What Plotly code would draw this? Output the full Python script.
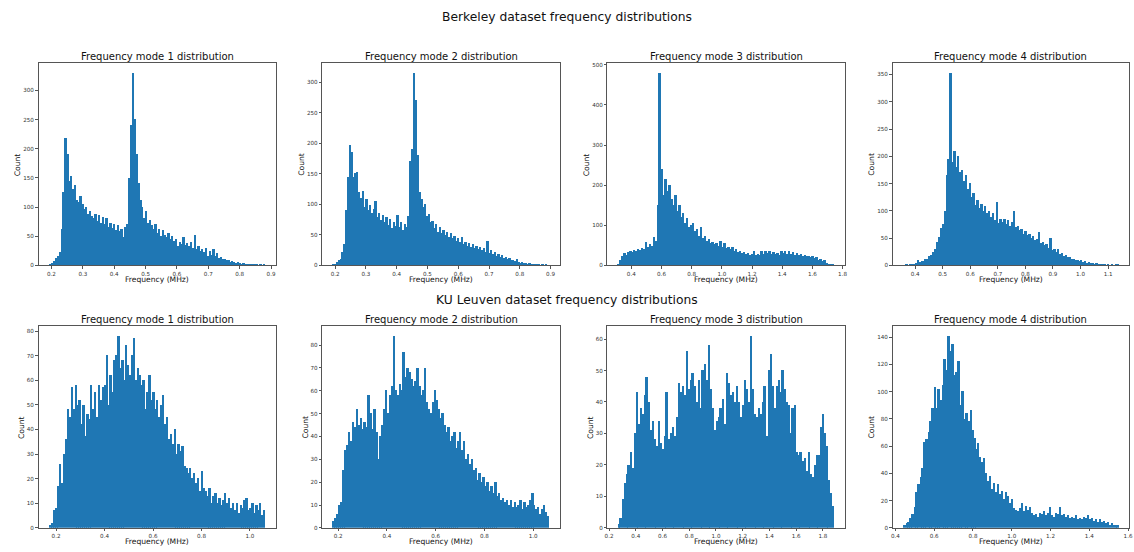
import numpy as np
import plotly.graph_objects as go

# ---------------- data (bin counts) ----------------
suptitles = ["Berkeley dataset frequency distributions", "KU Leuven dataset frequency distributions"]
panel_titles = ["Frequency mode 1 distribution", "Frequency mode 2 distribution",
                "Frequency mode 3 distribution", "Frequency mode 4 distribution"]
x_label = "Frequency (MHz)"
y_label = "Count"

# Berkeley
b1_lo, b1_hi = 0.193, 0.880
b1_counts = [1, 3, 7, 12, 16, 22, 62, 125, 218, 190, 145, 152, 130, 138, 112, 108, 118, 104, 96, 100,
             88, 92, 84, 80, 88, 75, 86, 72, 82, 70, 80, 66, 72, 64, 70, 60, 68, 58, 62, 48,
             65, 70, 150, 240, 330, 250, 190, 140, 112, 100, 80, 92, 72, 78, 68, 62, 70, 55, 62, 50,
             60, 52, 48, 55, 45, 50, 42, 45, 32, 40, 36, 48, 35, 38, 32, 40, 30, 52, 28, 32,
             24, 28, 22, 30, 16, 24, 18, 27, 15, 20, 12, 14, 10, 11, 8, 9, 6, 7, 5, 4,
             5, 3, 2, 4, 2, 2, 1, 2, 1, 1, 1, 0, 1, 0, 1]
b1_xticks = [0.2, 0.3, 0.4, 0.5, 0.6, 0.7, 0.8, 0.9]
b1_yticks = [0, 50, 100, 150, 200, 250, 300]

b2_lo, b2_hi = 0.193, 0.896
b2_counts = [1, 2, 5, 8, 10, 22, 35, 90, 145, 197, 185, 145, 150, 152, 120, 110, 122, 95, 108, 90,
             98, 85, 92, 105, 78, 86, 74, 82, 70, 78, 66, 76, 60, 70, 64, 82, 62, 70, 58, 68,
             62, 80, 170, 190, 315, 270, 180, 120, 108, 95, 100, 80, 84, 70, 72, 60, 68, 55, 62, 52,
             58, 50, 55, 46, 52, 45, 48, 40, 44, 38, 46, 35, 38, 32, 36, 30, 34, 28, 32, 26,
             30, 24, 28, 22, 40, 20, 24, 18, 22, 15, 18, 13, 16, 12, 14, 10, 12, 8, 9, 7,
             10, 5, 4, 5, 3, 4, 2, 3, 2, 1, 2, 1, 1, 0, 1, 0, 1, 0]
b2_xticks = [0.2, 0.3, 0.4, 0.5, 0.6, 0.7, 0.8, 0.9]
b2_yticks = [0, 50, 100, 150, 200, 250, 300]

b3_lo, b3_hi = 0.3135, 1.7435
b3_counts = [3, 12, 22, 30, 26, 33, 35, 32, 38, 35, 40, 38, 42, 40, 58, 45, 52, 48, 70, 60,
             150, 480, 240, 175, 215, 185, 200, 165, 150, 175, 135, 150, 120, 130, 105, 118, 95, 100, 105, 85,
             90, 72, 95, 68, 72, 60, 65, 55, 58, 52, 55, 48, 60, 45, 55, 42, 46, 40, 44, 36,
             40, 33, 35, 30, 32, 27, 30, 26, 28, 36, 25, 28, 26, 34, 28, 36, 30, 35, 27, 32,
             28, 30, 26, 36, 30, 35, 28, 34, 27, 32, 26, 30, 25, 28, 23, 26, 22, 24, 20, 22,
             17, 20, 14, 16, 10, 12, 6, 4, 2, 1]
b3_xticks = [0.4, 0.6, 0.8, 1.0, 1.2, 1.4, 1.6, 1.8]
b3_yticks = [0, 100, 200, 300, 400, 500]

b4_lo, b4_hi = 0.357, 1.138
b4_counts = [0, 1, 0, 1, 1, 2, 3, 10, 6, 8, 7, 11, 12, 16, 18, 24, 30, 42, 52, 68,
             75, 100, 165, 195, 353, 190, 210, 180, 200, 170, 175, 155, 165, 140, 150, 125, 132, 110, 120, 105,
             112, 100, 108, 95, 100, 88, 95, 82, 115, 78, 85, 80, 84, 76, 82, 72, 80, 100, 70, 72,
             64, 66, 58, 62, 55, 58, 50, 54, 46, 48, 60, 40, 42, 36, 38, 32, 50, 28, 30, 24,
             30, 20, 22, 17, 19, 14, 15, 11, 12, 9, 10, 7, 9, 5, 8, 4, 5, 3, 4, 2,
             3, 2, 1, 2, 1, 0, 1, 0, 1, 0, 1, 1]
b4_xticks = [0.4, 0.5, 0.6, 0.7, 0.8, 0.9, 1.0, 1.1]
b4_yticks = [0, 50, 100, 150, 200, 250, 300, 350]

# KU Leuven
k1_lo, k1_hi = 0.172, 1.061
k1_counts = [1, 2, 7, 8, 17, 26, 18, 30, 36, 48, 45, 57, 48, 58, 50, 52, 42, 50, 37, 46,
             44, 58, 48, 55, 45, 58, 52, 57, 58, 70, 50, 62, 55, 68, 70, 78, 65, 68, 60, 74,
             66, 62, 70, 77, 60, 65, 62, 58, 60, 48, 55, 62, 52, 55, 48, 52, 45, 50, 54, 42,
             45, 36, 38, 34, 40, 30, 34, 31, 33, 25, 24, 22, 24, 20, 22, 18, 20, 15, 23, 16,
             15, 13, 16, 10, 13, 14, 10, 12, 9, 11, 14, 10, 12, 8, 10, 7, 10, 6, 9, 8,
             11, 12, 7, 8, 10, 6, 9, 7, 10, 5, 7]
k1_xticks = [0.2, 0.4, 0.6, 0.8, 1.0]
k1_yticks = [0, 10, 20, 30, 40, 50, 60, 70, 80]

k2_lo, k2_hi = 0.179, 1.066
k2_counts = [3, 4, 6, 10, 11, 25, 34, 36, 42, 38, 46, 44, 52, 45, 48, 43, 46, 44, 58, 50,
             43, 52, 42, 30, 40, 45, 52, 60, 50, 58, 62, 84, 60, 58, 63, 60, 77, 66, 70, 68,
             65, 62, 64, 70, 62, 58, 60, 70, 55, 52, 50, 55, 60, 56, 52, 48, 50, 45, 42, 44,
             38, 40, 42, 35, 38, 42, 34, 38, 30, 32, 28, 30, 25, 26, 21, 24, 20, 22, 18, 20,
             16, 18, 15, 20, 14, 15, 12, 13, 11, 12, 10, 12, 9, 11, 9, 10, 12, 8, 11, 9,
             10, 12, 15, 10, 8, 9, 6, 8, 10, 7, 5]
k2_xticks = [0.2, 0.4, 0.6, 0.8, 1.0]
k2_yticks = [0, 10, 20, 30, 40, 50, 60, 70, 80]

k3_lo, k3_hi = 0.269, 1.883
k3_counts = [1, 3, 9, 14, 17, 20, 24, 19, 30, 43, 33, 38, 36, 42, 48, 40, 31, 34, 28, 26,
             34, 27, 25, 29, 43, 28, 30, 32, 29, 35, 46, 43, 45, 42, 56, 44, 47, 49, 45, 40,
             47, 38, 50, 52, 47, 58, 44, 38, 31, 34, 35, 38, 41, 33, 49, 46, 42, 43, 40, 45,
             40, 35, 39, 47, 44, 40, 61, 44, 36, 35, 38, 36, 40, 45, 29, 50, 55, 45, 38, 45,
             47, 43, 50, 44, 40, 39, 30, 38, 39, 24, 23, 24, 21, 22, 18, 24, 17, 16, 20, 23,
             23, 32, 36, 30, 26, 15, 11, 7]
k3_xticks = [0.2, 0.4, 0.6, 0.8, 1.0, 1.2, 1.4, 1.6, 1.8]
k3_yticks = [0, 10, 20, 30, 40, 50, 60]

k4_lo, k4_hi = 0.4405, 1.551
k4_counts = [2, 3, 4, 7, 10, 15, 26, 32, 37, 44, 63, 65, 70, 78, 88, 103, 88, 102, 94, 105,
             124, 116, 141, 130, 135, 112, 114, 122, 90, 100, 80, 84, 78, 86, 72, 66, 58, 62, 52, 48,
             51, 40, 34, 38, 28, 33, 26, 32, 25, 27, 21, 26, 23, 18, 21, 14, 13, 12, 14, 18,
             12, 16, 13, 15, 11, 9, 10, 8, 11, 10, 12, 9, 11, 15, 9, 8, 11, 10, 15, 9,
             10, 8, 9, 7, 8, 7, 9, 6, 7, 6, 8, 7, 9, 6, 7, 5, 6, 4, 6, 4,
             5, 3, 4, 2, 3, 2, 2, 2]
k4_xticks = [0.4, 0.6, 0.8, 1.0, 1.2, 1.4, 1.6]
k4_yticks = [0, 20, 40, 60, 80, 100, 120, 140]

panels = [
    (b1_lo, b1_hi, b1_counts, b1_xticks, b1_yticks),
    (b2_lo, b2_hi, b2_counts, b2_xticks, b2_yticks),
    (b3_lo, b3_hi, b3_counts, b3_xticks, b3_yticks),
    (b4_lo, b4_hi, b4_counts, b4_xticks, b4_yticks),
    (k1_lo, k1_hi, k1_counts, k1_xticks, k1_yticks),
    (k2_lo, k2_hi, k2_counts, k2_xticks, k2_yticks),
    (k3_lo, k3_hi, k3_counts, k3_xticks, k3_yticks),
    (k4_lo, k4_hi, k4_counts, k4_xticks, k4_yticks),
]

# ---------------- layout geometry (pixels) ----------------
W, H = 1134, 552
col_px = [(35.7, 274.0), (320.9, 560.1), (607.7, 846.3), (894.3, 1132.3)]
row_px = [(62.7, 266.3), (327.7, 530.7)]
count_label_x = [[14, 300, 586, 873], [18, 304, 590, 873]]
suptitle_y = [16.5, 301.5]

FONT = "DejaVu Sans"
BLUE = "#1f77b4"

def px_x(p):
    return p / W

def px_y(p):
    return 1 - p / H

fig = go.Figure()
layout = dict(
    width=W, height=H,
    margin=dict(l=0, r=0, t=0, b=0),
    paper_bgcolor="white", plot_bgcolor="white",
    showlegend=False, bargap=0,
    font=dict(family=FONT, color="#222"),
)
annotations = []

for i, (lo, hi, counts, xt, yt) in enumerate(panels):
    r, c = divmod(i, 4)
    n = len(counts)
    edges = np.linspace(lo, hi, n + 1)
    centers = (edges[:-1] + edges[1:]) / 2
    widths = np.diff(edges)
    ax = "" if i == 0 else str(i + 1)
    fig.add_trace(go.Bar(
        x=centers, y=counts, width=widths,
        marker=dict(color=BLUE, line=dict(width=0)),
        xaxis="x" + ax, yaxis="y" + ax,
        hoverinfo="x+y",
    ))
    span = hi - lo
    xr = [lo - 0.05 * span, hi + 0.05 * span]
    yr = [0, 1.05 * max(counts)]
    x0, x1 = col_px[c]
    y0, y1 = row_px[r]
    common = dict(
        showline=True, linecolor="#555", linewidth=1, mirror=True,
        showgrid=False, zeroline=False,
        ticks="outside", ticklen=2.5, tickwidth=0.8, tickcolor="#555",
        tickfont=dict(family=FONT, size=5.6, color="#333"),
    )
    layout["xaxis" + ax] = dict(
        common, domain=[px_x(x0), px_x(x1)], range=xr,
        tickvals=xt, tickformat=".1f", anchor="y" + ax,
    )
    layout["yaxis" + ax] = dict(
        common, domain=[px_y(y1), px_y(y0)], range=yr,
        tickvals=yt, tickformat="d", anchor="x" + ax,
    )
    # panel title
    annotations.append(dict(
        text=panel_titles[c], x=px_x((x0 + x1) / 2), y=px_y(y0 - 7),
        xref="paper", yref="paper", xanchor="center", yanchor="middle",
        showarrow=False, font=dict(family=FONT, size=10, color="#111"),
    ))
    # x label
    annotations.append(dict(
        text=x_label, x=px_x((x0 + x1) / 2), y=px_y(y1 + 14),
        xref="paper", yref="paper", xanchor="center", yanchor="middle",
        showarrow=False, font=dict(family=FONT, size=7.6, color="#111"),
    ))
    # y label
    annotations.append(dict(
        text=y_label, x=px_x(count_label_x[r][c]), y=px_y((y0 + y1) / 2),
        xref="paper", yref="paper", xanchor="center", yanchor="middle",
        textangle=-90, showarrow=False, font=dict(family=FONT, size=7.6, color="#111"),
    ))

for r in range(2):
    annotations.append(dict(
        text=suptitles[r], x=px_x(566.7), y=px_y(suptitle_y[r]),
        xref="paper", yref="paper", xanchor="center", yanchor="middle",
        showarrow=False, font=dict(family=FONT, size=12.3, color="#111"),
    ))

layout["annotations"] = annotations
fig.update_layout(**layout)
fig.write_html("out.html")
